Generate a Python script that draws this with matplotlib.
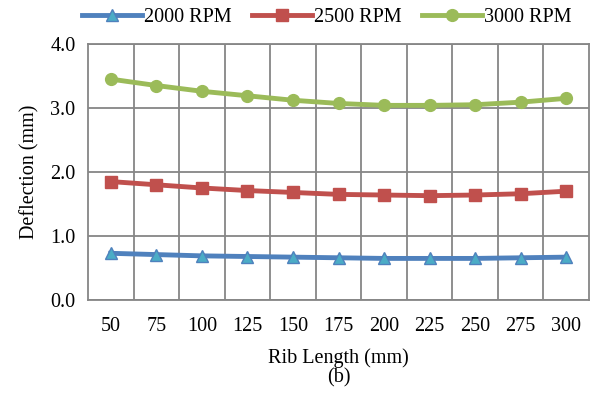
import matplotlib
matplotlib.use("Agg")
import matplotlib.pyplot as plt
import numpy as np

rib_length = ["50", "75", "100", "125", "150", "175", "200", "225", "250", "275", "300"]
rpm_2000 = [0.73, 0.71, 0.69, 0.68, 0.67, 0.66, 0.65, 0.65, 0.65, 0.66, 0.67]
rpm_2500 = [1.85, 1.80, 1.75, 1.71, 1.68, 1.65, 1.64, 1.63, 1.64, 1.66, 1.70]
rpm_3000 = [3.45, 3.35, 3.26, 3.19, 3.12, 3.07, 3.04, 3.04, 3.05, 3.09, 3.15]
y_ticks = [0.0, 1.0, 2.0, 3.0, 4.0]

plt.rcParams['font.family'] = ['Liberation Serif', 'DejaVu Serif']
FS = 14.5

fig = plt.figure(figsize=(5.92, 3.99), dpi=100)
ax = fig.add_axes([0.1486, 0.248, 0.8464, 0.642])

x = np.arange(len(rib_length))
ax.plot(x, rpm_2000, color='#4F81BD', lw=3.5, marker='^', ms=8.5,
        mfc='#4BACC6', mec='#4F81BD', mew=1, label='2000 RPM', zorder=3)
ax.plot(x, rpm_2500, color='#C0504D', lw=3.5, marker='s', ms=8.5,
        mfc='#C0504D', mec='#C0504D', label='2500 RPM', zorder=3)
ax.plot(x, rpm_3000, color='#9BBB59', lw=3.5, marker='o', ms=8.5,
        mfc='#9BBB59', mec='#9BBB59', label='3000 RPM', zorder=3)

ax.set_xlim(-0.5, len(rib_length) - 0.5)
ax.set_ylim(0, 4)
ax.set_xticks(x)
ax.set_xticklabels(rib_length)
ax.set_xticks(np.arange(0.5, len(rib_length) - 1, 1), minor=True)
ax.set_yticks(y_ticks)
ax.set_yticklabels([f"{v:.1f}" for v in y_ticks])
ax.tick_params(axis='both', which='both', length=0, labelsize=FS, colors='black')
ax.tick_params(axis='x', pad=12)
ax.tick_params(axis='y', pad=9)
ax.grid(True, which='minor', axis='x', color='#868686', lw=1.3)
ax.grid(True, which='major', axis='y', color='#868686', lw=1.3)
ax.set_axisbelow(True)
for s in ax.spines.values():
    s.set_color('#868686')
    s.set_linewidth(1.3)

ax.set_xlabel('Rib Length (mm)\n(b)', fontsize=FS, linespacing=1.05, labelpad=9)
ax.set_ylabel('Deflection (mm)', fontsize=FS, labelpad=8)

leg = fig.legend(loc='upper center', bbox_to_anchor=(0.552, 1.025), ncol=3, frameon=False,
                 fontsize=FS, handlelength=3.0, columnspacing=1.0, handletextpad=0.1)

fig.savefig('out.png', dpi=100)
